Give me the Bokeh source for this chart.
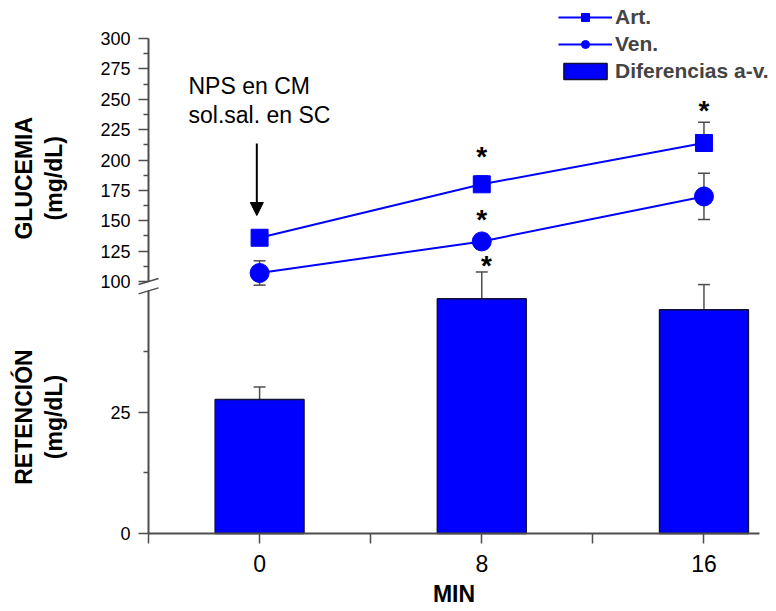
import numpy as np
from bokeh.plotting import figure
from bokeh.models import (Range1d, LinearAxis, FixedTicker, ColumnDataSource, Whisker, TeeHead,
                          Label, Arrow, NormalHead, Legend, LegendItem)
from bokeh.core.properties import value
from bokeh.embed import file_html
from bokeh.resources import INLINE

# ---------------- data ----------------
minutes = [0, 8, 16]
art = [136, 180, 214]          # glucemia arterial (mg/dL)
art_err = [3, 7, 17]
ven = [107, 133, 170]          # glucemia venosa (mg/dL)
ven_err = [10, 6, 19]
diff = [27.6, 48.4, 46.1]      # retención (diferencias a-v)
diff_err = [2.6, 5.5, 5.2]

x_ticks = [0, 8, 16]
x_minor = [-4, 4, 12]
glu_ticks = [100, 125, 150, 175, 200, 225, 250, 275, 300]
glu_minor = [112.5, 137.5, 162.5, 187.5, 212.5, 237.5, 262.5, 287.5]
ret_ticks = [0, 25]
ret_minor = [12.5, 37.5]

sig_glu_x = [8, 8, 16]
sig_glu_y = [205, 153.5, 243]
sig_ret_x = [8.17]
sig_ret_y = [55.9]

FONT = "Liberation Sans"
BLUE = "#0000FF"
AX = "#4d4d4d"
X0 = -4.0   # position of the y axes on the x scale
Y0 = 0.0    # position of the x axis on the retention scale

p = figure(width=776, height=611, x_range=Range1d(-9.329, 18.612), y_range=Range1d(-16.076, 109.85),
           output_backend="svg", toolbar_location=None,
           min_border_left=0, min_border_right=0, min_border_top=0, min_border_bottom=0)
p.extra_y_ranges = {"glu": Range1d(-171.6, 331.28)}
p.grid.visible = False
p.outline_line_color = None
p.background_fill_color = "white"

# x axis
xa = p.xaxis[0]
xa.ticker = FixedTicker(ticks=x_ticks, minor_ticks=x_minor)
xa.bounds = (-4, 18)
xa.fixed_location = Y0
xa.axis_line_color = AX
xa.axis_line_width = 2
xa.major_tick_line_color = AX
xa.minor_tick_line_color = AX
xa.major_tick_line_width = 1.5
xa.minor_tick_line_width = 1.5
xa.major_tick_out = 10
xa.major_tick_in = 0
xa.minor_tick_out = 10
xa.minor_tick_in = 0
xa.major_label_text_font = FONT
xa.major_label_text_font_size = "23px"
xa.major_label_text_color = "black"
xa.major_label_standoff = 12

def style_y(ax):
    ax.axis_line_color = AX
    ax.axis_line_width = 2
    ax.major_tick_line_color = AX
    ax.minor_tick_line_color = AX
    ax.major_tick_line_width = 1.5
    ax.minor_tick_line_width = 1.5
    ax.major_tick_out = 10
    ax.major_tick_in = 0
    ax.minor_tick_out = 5
    ax.minor_tick_in = 0
    ax.major_label_text_font = FONT
    ax.major_label_text_font_size = "18px"
    ax.major_label_text_color = "black"
    ax.major_label_standoff = 8

ya = p.yaxis[0]
ya.ticker = FixedTicker(ticks=ret_ticks, minor_ticks=ret_minor)
ya.bounds = (0, 50)
style_y(ya)
ya.fixed_location = X0

ga = LinearAxis(y_range_name="glu", ticker=FixedTicker(ticks=glu_ticks, minor_ticks=glu_minor),
                bounds=(100, 300))
style_y(ga)
ga.fixed_location = X0
p.add_layout(ga, "left")

# axis break marks
for yv, rng, dy in [(100, "glu", 2.47), (50, "default", 0.62)]:
    p.add_layout(Arrow(x_start=X0 - 0.36, y_start=yv - dy, x_end=X0 + 0.36, y_end=yv + dy,
                       y_range_name=rng, end=None, line_color=AX, line_width=1.5))

# bars
src_b = ColumnDataSource(dict(x=minutes, top=diff, up=[d + e for d, e in zip(diff, diff_err)]))
bars = p.vbar(x="x", top="top", width=3.2, bottom=0, source=src_b,
              fill_color=BLUE, line_color="#111133", line_width=1.5)
p.add_layout(Whisker(base="x", lower="top", upper="up", source=src_b, dimension="height",
                     line_color=AX, line_width=1.5,
                     upper_head=TeeHead(size=12, line_color=AX, line_width=1.5), lower_head=None))

# line series
src_a = ColumnDataSource(dict(x=minutes, y=art, up=[a + e for a, e in zip(art, art_err)]))
src_v = ColumnDataSource(dict(x=minutes, y=ven, lo=[v - e for v, e in zip(ven, ven_err)],
                              up=[v + e for v, e in zip(ven, ven_err)]))
p.add_layout(Whisker(base="x", lower="y", upper="up", source=src_a, y_range_name="glu",
                     line_color=AX, line_width=1.5,
                     upper_head=TeeHead(size=12, line_color=AX, line_width=1.5), lower_head=None))
p.add_layout(Whisker(base="x", lower="lo", upper="up", source=src_v, y_range_name="glu",
                     line_color=AX, line_width=1.5,
                     upper_head=TeeHead(size=12, line_color=AX, line_width=1.5),
                     lower_head=TeeHead(size=12, line_color=AX, line_width=1.5)))

art_line = p.line("x", "y", source=src_a, y_range_name="glu", line_color=BLUE, line_width=2)
art_pts = p.scatter("x", "y", source=src_a, y_range_name="glu", marker="square", size=17,
                    fill_color=BLUE, line_color=BLUE)
ven_line = p.line("x", "y", source=src_v, y_range_name="glu", line_color=BLUE, line_width=2)
ven_pts = p.scatter("x", "y", source=src_v, y_range_name="glu", marker="circle", size=19,
                    fill_color=BLUE, line_color=BLUE)

# significance asterisks
p.text(x=sig_glu_x, y=sig_glu_y, text=["*"] * len(sig_glu_x), y_range_name="glu",
       text_font=value(FONT), text_font_style="bold", text_font_size="28px",
       text_align="center", text_baseline="middle", y_offset=3, text_color="black")
p.text(x=sig_ret_x, y=sig_ret_y, text=["*"] * len(sig_ret_x),
       text_font=value(FONT), text_font_style="bold", text_font_size="28px",
       text_align="center", text_baseline="middle", y_offset=3, text_color="black")

# axis titles
for txt, xx, yy, rng in [("GLUCEMIA", -8.5, 185, "glu"), ("(mg/dL)", -7.385, 185, "glu"),
                         ("RETENCIÓN", -8.5, 24, "default"), ("(mg/dL)", -7.385, 24, "default")]:
    p.add_layout(Label(x=xx, y=yy, y_range_name=rng, text=txt, angle=np.pi / 2,
                       text_align="center", text_baseline="middle", text_font=FONT,
                       text_font_style="bold", text_font_size="23px", text_color="black"))
p.add_layout(Label(x=7, y=-12.4, text="MIN", text_align="center", text_baseline="middle",
                   text_font=FONT, text_font_style="bold", text_font_size="23px", text_color="black"))

# annotation text + arrow
p.add_layout(Label(x=-2.56, y=261.3, y_range_name="glu", text="NPS en CM", text_font=FONT,
                   text_font_size="23px", text_baseline="middle", text_color="black"))
p.add_layout(Label(x=-2.56, y=237.4, y_range_name="glu", text="sol.sal. en SC", text_font=FONT,
                   text_font_size="23px", text_baseline="middle", text_color="black"))
p.add_layout(Arrow(x_start=-0.1, y_start=213.6, x_end=-0.1, y_end=154.3, y_range_name="glu",
                   line_color="black", line_width=2,
                   end=NormalHead(size=13, fill_color="black", line_color="black")))

# legend
legend = Legend(items=[LegendItem(label="Art.", renderers=[art_line, art_pts]),
                       LegendItem(label="Ven.", renderers=[ven_line, ven_pts]),
                       LegendItem(label="Diferencias a-v.", renderers=[bars])],
                location=(558, 528), border_line_color=None, background_fill_alpha=0,
                label_text_font=FONT, label_text_font_style="bold", label_text_font_size="21px",
                glyph_width=54, glyph_height=20, label_standoff=3, padding=0, margin=0, spacing=3)
p.add_layout(legend)

open("out.html", "w").write(file_html(p, INLINE))
